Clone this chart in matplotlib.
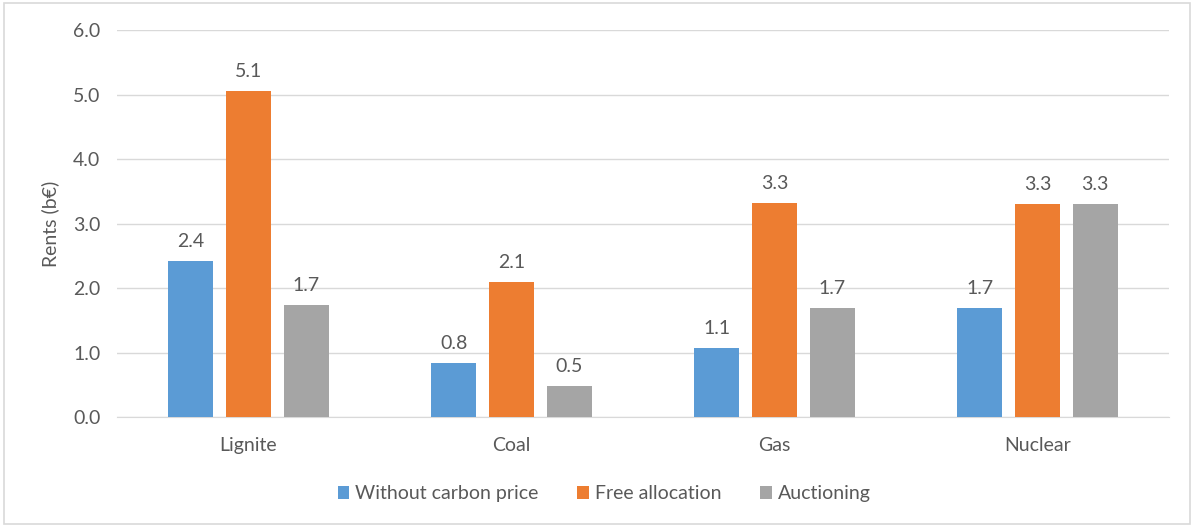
import matplotlib.pyplot as plt
import numpy as np
from matplotlib.patches import Rectangle

plt.rcParams['font.family'] = ['Lato', 'DejaVu Sans']

technologies = ['Lignite', 'Coal', 'Gas', 'Nuclear']
series_names = ['Without carbon price', 'Free allocation', 'Auctioning']
without_carbon = [2.42, 0.84, 1.07, 1.70]
free_allocation = [5.06, 2.10, 3.32, 3.30]
auctioning = [1.74, 0.49, 1.69, 3.30]
colors = ['#5B9BD5', '#ED7D31', '#A5A5A5']

text_col = '#595959'
fs = 14

fig = plt.figure(figsize=(11.94, 5.27), dpi=100)
ax = fig.add_axes([0.098, 0.208, 0.881, 0.735])

x = np.arange(len(technologies))
width = 0.17
step = 0.22
for i, (vals, name, c) in enumerate(zip([without_carbon, free_allocation, auctioning], series_names, colors)):
    pos = x + (i - 1) * step
    ax.bar(pos, vals, width=width, color=c, label=name, zorder=3)
    for px, v in zip(pos, vals):
        ax.text(px, v + 0.17, f'{v:.1f}', ha='center', va='bottom', fontsize=fs, color=text_col)

ax.set_xlim(-0.5, 3.5)
ax.set_ylim(0, 6)
ax.set_yticks(np.arange(0, 6.1, 1))
ax.set_yticklabels([f'{t:.1f}' for t in np.arange(0, 6.1, 1)])
ax.set_xticks(x)
ax.set_xticklabels(technologies)
ax.tick_params(axis='both', length=0, labelsize=fs, colors=text_col)
ax.tick_params(axis='y', pad=12)
ax.tick_params(axis='x', pad=14)
ax.grid(axis='y', color='#D9D9D9', linewidth=1, zorder=0)
for side in ['top', 'right', 'left']:
    ax.spines[side].set_visible(False)
ax.spines['bottom'].set_color('#D9D9D9')
ax.set_ylabel('Rents (b€)', fontsize=fs, color=text_col, labelpad=10)

leg = fig.legend(loc='center', bbox_to_anchor=(0.506, 0.063), ncol=3, frameon=False,
                 fontsize=fs, handlelength=0.6, handleheight=0.6, handletextpad=0.3,
                 columnspacing=2.0)
for t in leg.get_texts():
    t.set_color(text_col)

# light frame around the whole chart
fig.patches.append(Rectangle((0.003, 0.005), 0.994, 0.99, transform=fig.transFigure,
                             fill=False, edgecolor='#D9D9D9', linewidth=1.2))

fig.savefig('out.png', dpi=100)
